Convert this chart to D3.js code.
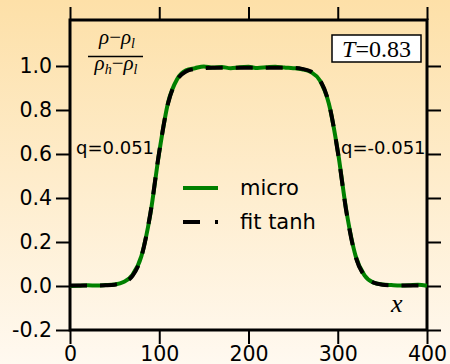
<!DOCTYPE html>
<html>
<head>
<meta charset="utf-8">
<script src="https://cdn.jsdelivr.net/npm/d3@7"></script>
<style>
	body { margin: 0; padding: 0; }
	svg { display: block; }
</style>
</head>
<body>
<div id="chart"></div>
<script>

// positions along the slab
var xs = [0, 10, 20, 30, 40, 50, 60, 70, 80, 90, 100, 110, 120, 130, 140, 150, 160, 170, 180, 190, 200,
	210, 220, 230, 240, 250, 260, 270, 280, 290, 300, 310, 320, 330, 340, 350, 360, 370, 380, 390, 400];

// simulated (micro) profile
var micro = [0.000, 0.001, 0.003, 0.002, 0.004, 0.007, 0.018, 0.050, 0.136, 0.326, 0.608, 0.835, 0.940, 0.980, 0.990, 0.998, 0.993, 0.995, 0.990, 0.994, 0.996,
	0.991, 0.994, 0.997, 0.993, 0.990, 0.985, 0.972, 0.934, 0.829, 0.614, 0.333, 0.137, 0.048, 0.015, 0.007, 0.004, 0.002, 0.003, 0.006, 0.001];

// tanh fit
var fit = [0.002, 0.002, 0.002, 0.002, 0.003, 0.006, 0.016, 0.046, 0.133, 0.329, 0.611, 0.832, 0.937, 0.975, 0.987, 0.991, 0.992, 0.992, 0.992, 0.992, 0.992,
	0.992, 0.992, 0.992, 0.992, 0.991, 0.987, 0.975, 0.937, 0.832, 0.611, 0.329, 0.133, 0.046, 0.016, 0.006, 0.003, 0.002, 0.002, 0.002, 0.002];

var xTicks = [0, 100, 200, 300, 400];
var yTicks = [-0.2, 0.0, 0.2, 0.4, 0.6, 0.8, 1.0];
var yTickLabels = ['-0.2', '0.0', '0.2', '0.4', '0.6', '0.8', '1.0'];

var width = 450, height = 364;
var mLeft = 70, mRight = 427, mTop = 20, mBottom = 330;
var sans = 'DejaVu Sans, sans-serif';
var serif = 'Liberation Serif, serif';

var svg = d3.select('#chart').append('svg')
	.attr('width', width)
	.attr('height', height);

var grad = svg.append('defs').append('linearGradient')
	.attr('id', 'bg')
	.attr('x1', 0).attr('y1', 0).attr('x2', 0).attr('y2', 1);
grad.append('stop').attr('offset', '0%').attr('stop-color', '#fde0a8');
grad.append('stop').attr('offset', '100%').attr('stop-color', '#fff9f0');

svg.append('rect')
	.attr('width', width)
	.attr('height', height)
	.attr('fill', 'url(#bg)');

var x = d3.scaleLinear().domain([0, 400]).range([mLeft, mRight]);
var y = d3.scaleLinear().domain([-0.2, 1.209]).range([mBottom, mTop]);

/**
 * Axes on all four sides, ticks pointing outward
 */
var styleAxis = function(g) {
	g.select('.domain').remove();
	g.selectAll('.tick line').attr('stroke', '#000').attr('stroke-width', 2);
	g.selectAll('.tick text').attr('fill', '#000').style('font-family', sans).style('font-size', '20.5px');
};

svg.append('g')
	.attr('transform', 'translate(' + mLeft + ',0)')
	.call(d3.axisLeft(y).tickValues(yTicks).tickSize(14).tickPadding(4)
		.tickFormat(function(d, i) { return yTickLabels[i]; }))
	.call(styleAxis);

svg.append('g')
	.attr('transform', 'translate(' + mRight + ',0)')
	.call(d3.axisRight(y).tickValues(yTicks).tickSize(14).tickFormat(''))
	.call(styleAxis);

svg.append('g')
	.attr('transform', 'translate(0,' + mBottom + ')')
	.call(d3.axisBottom(x).tickValues(xTicks).tickSize(14).tickPadding(2)
		.tickFormat(d3.format('d')))
	.call(styleAxis);

svg.append('g')
	.attr('transform', 'translate(0,' + mTop + ')')
	.call(d3.axisTop(x).tickValues(xTicks).tickSize(13).tickFormat(''))
	.call(styleAxis);

svg.append('rect')
	.attr('x', mLeft)
	.attr('y', mTop)
	.attr('width', mRight - mLeft)
	.attr('height', mBottom - mTop)
	.attr('fill', 'none')
	.attr('stroke', '#000')
	.attr('stroke-width', 3);

var line = d3.line()
	.x(function(d, i) { return x(xs[i]); })
	.y(function(d) { return y(d); })
	.curve(d3.curveMonotoneX);

svg.append('path').datum(micro)
	.attr('fill', 'none')
	.attr('stroke', '#008000')
	.attr('stroke-width', 4)
	.attr('d', line);

svg.append('path').datum(fit)
	.attr('fill', 'none')
	.attr('stroke', '#000')
	.attr('stroke-width', 4)
	.attr('stroke-dasharray', '17,13')
	.attr('d', line);

// legend
var legend = svg.append('g');
legend.append('line')
	.attr('x1', 183).attr('x2', 218).attr('y1', 188).attr('y2', 188)
	.attr('stroke', '#008000').attr('stroke-width', 4);
legend.append('line')
	.attr('x1', 183).attr('x2', 218).attr('y1', 222).attr('y2', 222)
	.attr('stroke', '#000').attr('stroke-width', 4).attr('stroke-dasharray', '17,15');
legend.append('text')
	.attr('x', 240).attr('y', 195)
	.style('font-family', sans).style('font-size', '21px')
	.text('micro');
legend.append('text')
	.attr('x', 240).attr('y', 229)
	.style('font-family', sans).style('font-size', '21px')
	.text('fit tanh');

// interface labels
svg.append('text')
	.attr('x', 76).attr('y', 154)
	.style('font-family', sans).style('font-size', '18px')
	.text('q=0.051');
svg.append('text')
	.attr('x', 341).attr('y', 154)
	.style('font-family', sans).style('font-size', '18px')
	.text('q=-0.051');

// y label as a fraction
var frac = svg.append('g').style('font-family', serif).style('font-size', '21px');
var num = frac.append('text').attr('x', 117).attr('y', 44).attr('text-anchor', 'middle');
num.append('tspan').style('font-style', 'italic').text('ρ');
num.append('tspan').text('−');
num.append('tspan').style('font-style', 'italic').text('ρ');
num.append('tspan').style('font-style', 'italic').style('font-size', '14px').attr('dy', 4).text('l');
frac.append('line')
	.attr('x1', 88).attr('x2', 143).attr('y1', 56.5).attr('y2', 56.5)
	.attr('stroke', '#000').attr('stroke-width', 1.4);
var den = frac.append('text').attr('x', 116).attr('y', 70).attr('text-anchor', 'middle');
den.append('tspan').style('font-style', 'italic').text('ρ');
den.append('tspan').style('font-style', 'italic').style('font-size', '14px').attr('dy', 4).text('h');
den.append('tspan').attr('dy', -4).text('−');
den.append('tspan').style('font-style', 'italic').text('ρ');
den.append('tspan').style('font-style', 'italic').style('font-size', '14px').attr('dy', 4).text('l');

// temperature box
svg.append('rect')
	.attr('x', 332).attr('y', 35).attr('width', 89).attr('height', 27)
	.attr('fill', '#fff').attr('stroke', '#000').attr('stroke-width', 1.5);
var tt = svg.append('text')
	.attr('x', 376.5).attr('y', 57).attr('text-anchor', 'middle')
	.style('font-family', serif).style('font-size', '24px');
tt.append('tspan').style('font-style', 'italic').text('T');
tt.append('tspan').text('=0.83');

// x label
svg.append('text')
	.attr('x', 391).attr('y', 312)
	.style('font-family', serif).style('font-size', '26px').style('font-style', 'italic')
	.text('x');

</script>
</body>
</html>
